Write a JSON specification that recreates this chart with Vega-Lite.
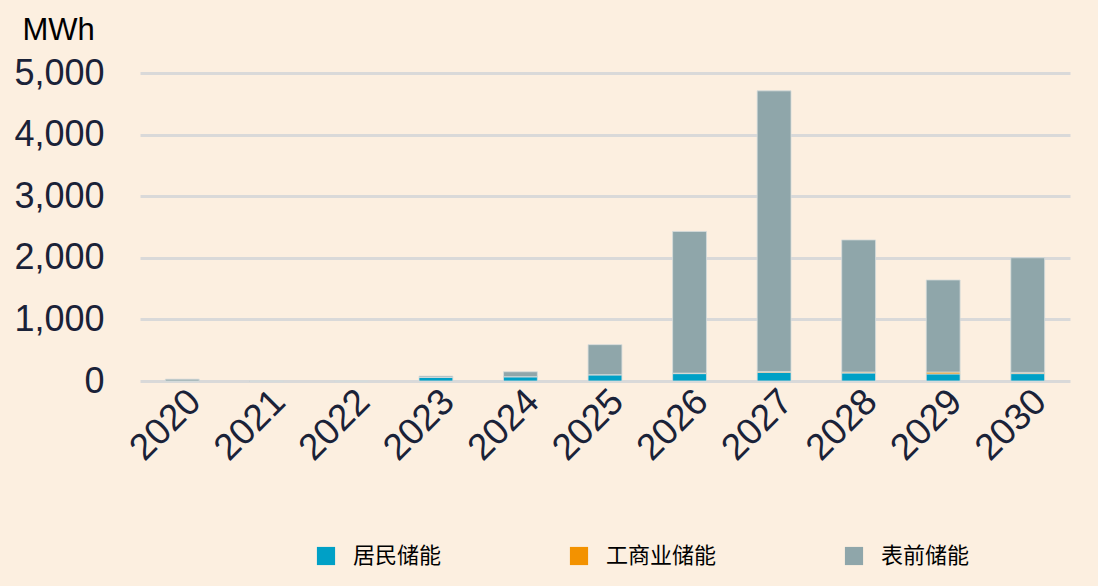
{
  "$schema": "https://vega.github.io/schema/vega-lite/v6.json",
  "autosize": {"type": "none"},
  "width": 930,
  "height": 308,
  "padding": {"left": 140, "top": 73, "right": 28, "bottom": 205},
  "background": "#FCEFE0",
  "config": {
    "view": {"stroke": null},
    "font": "Liberation Sans"
  },
  "data": {
    "values": [
      {"year": "2020", "type": "居民储能", "value": 0},
      {"year": "2020", "type": "工商业储能", "value": 0},
      {"year": "2020", "type": "表前储能", "value": 30},
      {"year": "2021", "type": "居民储能", "value": 0},
      {"year": "2021", "type": "工商业储能", "value": 0},
      {"year": "2021", "type": "表前储能", "value": 0},
      {"year": "2022", "type": "居民储能", "value": 0},
      {"year": "2022", "type": "工商业储能", "value": 0},
      {"year": "2022", "type": "表前储能", "value": 0},
      {"year": "2023", "type": "居民储能", "value": 60},
      {"year": "2023", "type": "工商业储能", "value": 0},
      {"year": "2023", "type": "表前储能", "value": 20},
      {"year": "2024", "type": "居民储能", "value": 70},
      {"year": "2024", "type": "工商业储能", "value": 0},
      {"year": "2024", "type": "表前储能", "value": 80},
      {"year": "2025", "type": "居民储能", "value": 100},
      {"year": "2025", "type": "工商业储能", "value": 3},
      {"year": "2025", "type": "表前储能", "value": 487},
      {"year": "2026", "type": "居民储能", "value": 120},
      {"year": "2026", "type": "工商业储能", "value": 8},
      {"year": "2026", "type": "表前储能", "value": 2300},
      {"year": "2027", "type": "居民储能", "value": 140},
      {"year": "2027", "type": "工商业储能", "value": 15},
      {"year": "2027", "type": "表前储能", "value": 4555},
      {"year": "2028", "type": "居民储能", "value": 130},
      {"year": "2028", "type": "工商业储能", "value": 15},
      {"year": "2028", "type": "表前储能", "value": 2145},
      {"year": "2029", "type": "居民储能", "value": 115},
      {"year": "2029", "type": "工商业储能", "value": 30},
      {"year": "2029", "type": "表前储能", "value": 1495},
      {"year": "2030", "type": "居民储能", "value": 120},
      {"year": "2030", "type": "工商业储能", "value": 20},
      {"year": "2030", "type": "表前储能", "value": 1860}
    ]
  },
  "transform": [
    {"calculate": "indexof(['居民储能','工商业储能','表前储能'], datum.type)", "as": "typeOrder"}
  ],
  "mark": {"type": "bar", "stroke": "#D6DCDC", "strokeWidth": 0.8},
  "encoding": {
    "x": {
      "field": "year",
      "type": "ordinal",
      "scale": {"paddingInner": 0.6, "paddingOuter": 0.3},
      "axis": {
        "title": null,
        "labelAngle": -45,
        "labelFontSize": 37,
        "labelColor": "#1A2238",
        "labelFont": "Liberation Sans",
        "ticks": false,
        "domain": false,
        "labelPadding": 2
      }
    },
    "y": {
      "field": "value",
      "type": "quantitative",
      "aggregate": "sum",
      "stack": "zero",
      "scale": {"domain": [0, 5000]},
      "axis": {
        "values": [0, 1000, 2000, 3000, 4000, 5000],
        "format": ",.0f",
        "title": "MWh",
        "titleAngle": 0,
        "titleAlign": "left",
        "titleBaseline": "bottom",
        "titleX": -118,
        "titleY": -27,
        "titleFontSize": 31,
        "titleFontWeight": "normal",
        "titleColor": "#000000",
        "titleFont": "Liberation Sans",
        "labelFontSize": 36,
        "labelColor": "#1A2238",
        "labelFont": "Liberation Sans",
        "labelPadding": 36,
        "ticks": false,
        "domain": false,
        "gridColor": "#D9D9D9",
        "gridWidth": 3
      }
    },
    "color": {
      "field": "type",
      "type": "nominal",
      "sort": ["居民储能", "工商业储能", "表前储能"],
      "scale": {
        "domain": ["居民储能", "工商业储能", "表前储能"],
        "range": ["#00A0C6", "#F39200", "#8FA6AA"]
      },
      "legend": {
        "title": null,
        "orient": "none",
        "legendX": 175,
        "legendY": 472,
        "direction": "horizontal",
        "symbolType": "square",
        "symbolSize": 330,
        "symbolStrokeWidth": 0,
        "labelFontSize": 22,
        "labelFont": "Noto Sans CJK SC",
        "labelColor": "#000000",
        "labelOffset": 16,
        "columnPadding": 126
      }
    },
    "order": {"field": "typeOrder"}
  }
}
